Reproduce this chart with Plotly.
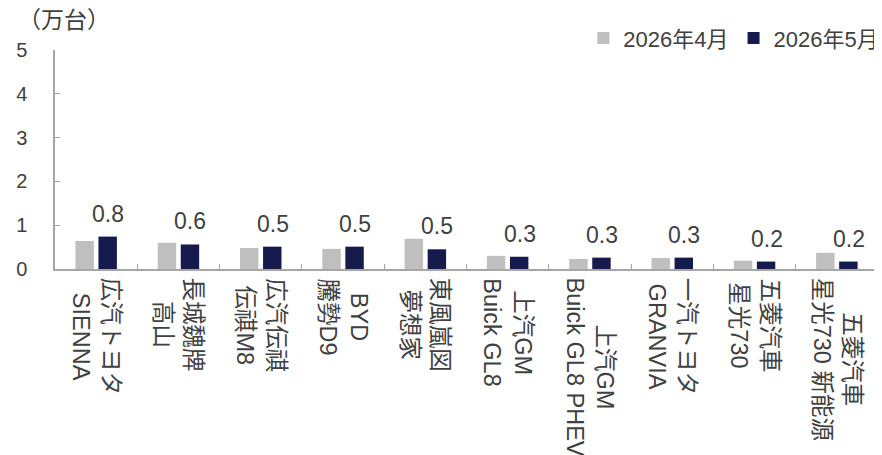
import plotly.graph_objects as go

categories = [
    "広汽トヨタ<br>SIENNA",
    "長城魏牌<br>高山",
    "広汽伝祺<br>伝祺M8",
    "BYD<br>騰勢D9",
    "東風嵐図<br>夢想家",
    "上汽GM<br>Buick GL8",
    "上汽GM<br>Buick GL8 PHEV",
    "一汽トヨタ<br>GRANVIA",
    "五菱汽車<br>星光730",
    "五菱汽車<br>星光730 新能源",
]
apr_2026 = [0.64, 0.60, 0.48, 0.46, 0.69, 0.30, 0.23, 0.25, 0.19, 0.37]
may_2026 = [0.74, 0.56, 0.51, 0.51, 0.45, 0.28, 0.26, 0.26, 0.17, 0.17]
may_labels = ["0.8", "0.6", "0.5", "0.5", "0.5", "0.3", "0.3", "0.3", "0.2", "0.2"]
series_names = ["2026年4月", "2026年5月"]
y_ticks = [0, 1, 2, 3, 4, 5]

FONT = "Liberation Sans, Arial, Noto Sans CJK JP, sans-serif"
TXT = "#404040"
AXC = "#A6A6A6"

fig = go.Figure()
fig.add_trace(go.Bar(x=categories, y=apr_2026, name=series_names[0],
                     marker=dict(color="#BFBFBF", line=dict(width=0))))
fig.add_trace(go.Bar(x=categories, y=may_2026, name=series_names[1],
                     marker=dict(color="#151B4D", line=dict(width=0))))

annotations = []
for c, v, t in zip(categories, may_2026, may_labels):
    annotations.append(dict(x=c, y=v, xref="x", yref="y", text=t, showarrow=False,
                            xshift=12, yshift=8, yanchor="bottom", xanchor="center",
                            font=dict(family=FONT, size=23, color=TXT)))
for c in categories:
    annotations.append(dict(x=c, y=0, xref="x", yref="paper", text=c, showarrow=False,
                            textangle=90, align="center", yanchor="top", xanchor="center",
                            yshift=-7, font=dict(family=FONT, size=23.5, color=TXT)))
annotations.append(dict(x=-0.047, y=1.205, xref="paper", yref="paper", text="（万台）",
                        showarrow=False, xanchor="left", yanchor="top",
                        font=dict(family=FONT, size=23, color=TXT)))

fig.update_layout(
    width=882, height=455,
    margin=dict(l=47, r=12, t=42, b=194, autoexpand=False),
    paper_bgcolor="white", plot_bgcolor="white",
    barmode="group", bargap=0.44, bargroupgap=0.2,
    font=dict(family=FONT, size=20, color=TXT),
    showlegend=True,
    legend=dict(orientation="h", xref="paper", yref="paper",
                x=0.642, xanchor="left", y=1.15, yanchor="top",
                font=dict(family=FONT, size=22, color=TXT),
                bgcolor="rgba(0,0,0,0)", itemwidth=30, tracegroupgap=0),
    annotations=annotations,
    xaxis=dict(showline=True, linecolor=AXC, linewidth=1.5, ticks="inside",
               tickson="boundaries", ticklen=5, tickcolor=AXC, showticklabels=False,
               showgrid=False, zeroline=False, fixedrange=True),
    yaxis=dict(range=[0, 5], tickvals=y_ticks, showline=True, linecolor=AXC, linewidth=1.5,
               ticks="inside", ticklen=5, tickcolor=AXC, showgrid=False, zeroline=False,
               tickfont=dict(family=FONT, size=20, color=TXT), ticklabelstandoff=22,
               fixedrange=True),
)

fig.write_html("out.html")
